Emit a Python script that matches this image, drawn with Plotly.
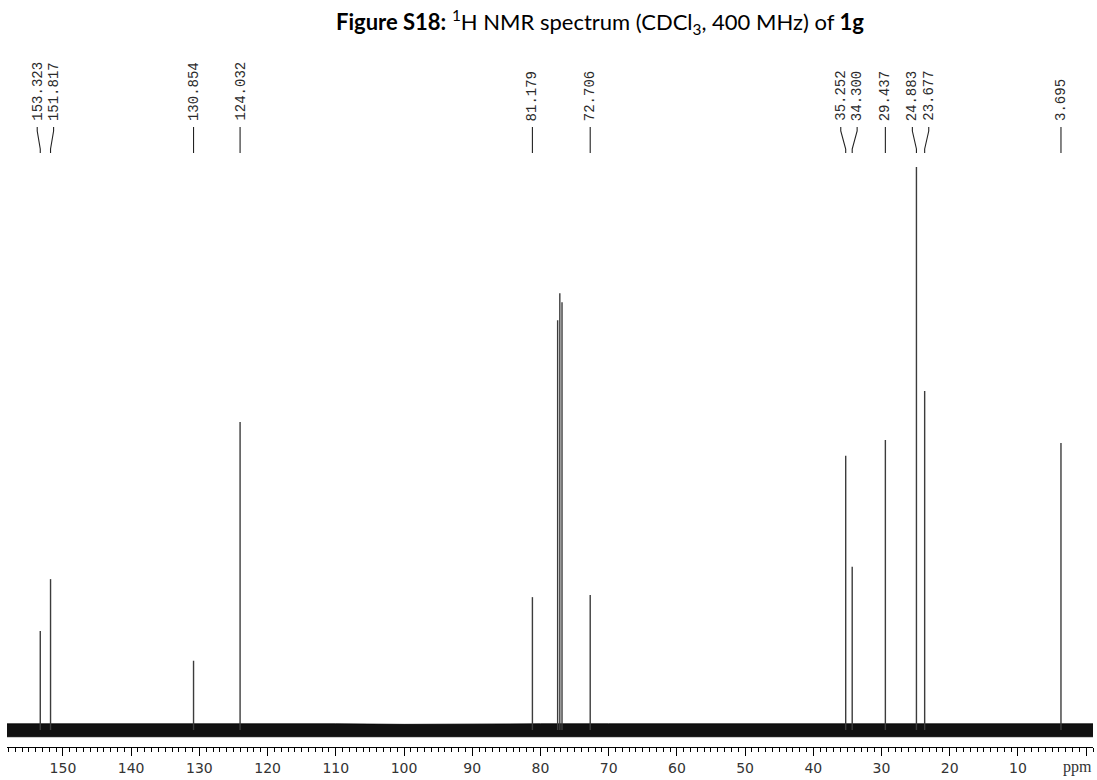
import plotly.graph_objects as go

# ---- data ----
peak_ppm = [153.323, 151.817, 130.854, 124.032, 81.179, 77.48, 77.16, 76.84,
            72.706, 35.252, 34.300, 29.437, 24.883, 23.677, 3.695]
peak_int = [17.6, 26.8, 12.3, 54.7, 23.6, 72.8, 77.6, 76.0,
            24.0, 48.7, 29.0, 51.5, 100.0, 60.2, 51.0]

label_ppm = [153.323, 151.817, 130.854, 124.032, 81.179, 72.706,
             35.252, 34.300, 29.437, 24.883, 23.677, 3.695]
label_text = ["153.323", "151.817", "130.854", "124.032", "81.179", "72.706",
              "35.252", "34.300", "29.437", "24.883", "23.677", "3.695"]

noise_ppm = [158.2, 150, 140, 130, 120, 110, 100, 90, 80, 70, 60, 50, 40, 30, 20, 10, 0, -1.0]
noise_hi = [1.1, 1.1, 1.2, 1.1, 1.1, 1.1, 1.0, 1.1, 1.1, 1.1, 1.1, 1.1, 1.2, 1.1, 1.1, 1.1, 1.1, 1.1]
noise_lo = [-1.2, -1.2, -1.1, -1.2, -1.1, -1.1, -1.1, -1.1, -1.2, -1.2, -1.1, -1.2, -1.1, -1.2, -1.1, -1.2, -1.1, -1.2]

tick_vals = [150, 140, 130, 120, 110, 100, 90, 80, 70, 60, 50, 40, 30, 20, 10, 0]
tick_text = ["150", "140", "130", "120", "110", "100", "90", "80", "70", "60",
             "50", "40", "30", "20", "10", ""]
unit_text = "ppm"

# ---- layout constants ----
X_RANGE = [158.2, -1.0]
Y_RANGE = [-3.02, 119.9]
PX_TOP, PX_BOT = 55, 747          # plot area in page pixels (used by y2)
PX_LEFT, PX_RIGHT = 7, 1093
LABEL_BOTTOM = 122
CONN_TOP, CONN_BOT = 127, 153
MIN_SEP = 2.4                      # ppm between neighbouring labels

# spread labels that are too close
pos = list(label_ppm)
for _ in range(50):
    for i in range(len(pos) - 1):
        d = pos[i] - pos[i + 1]
        if d < MIN_SEP:
            c = (pos[i] + pos[i + 1]) / 2
            pos[i] = c + MIN_SEP / 2
            pos[i + 1] = c - MIN_SEP / 2

fig = go.Figure()

# baseline noise band
fig.add_trace(go.Scatter(x=noise_ppm, y=noise_lo, mode="lines",
                         line=dict(color="black", width=0.8), hoverinfo="skip"))
fig.add_trace(go.Scatter(x=noise_ppm, y=noise_hi, mode="lines", fill="tonexty",
                         fillcolor="#111", line=dict(color="black", width=0.8),
                         hoverinfo="skip"))

# peaks
px, py = [], []
for p, h in zip(peak_ppm, peak_int):
    px += [p, p, None]
    py += [0, h, None]
fig.add_trace(go.Scatter(x=px, y=py, mode="lines",
                         line=dict(color="#3c3c3c", width=1.4), hoverinfo="skip"))

# connectors
cx, cy = [], []
for lp, p in zip(pos, label_ppm):
    cx += [lp, lp, p, p, None]
    cy += [CONN_TOP, CONN_TOP + 4, CONN_BOT - 4, CONN_BOT, None]
fig.add_trace(go.Scatter(x=cx, y=cy, mode="lines", yaxis="y2",
                         line=dict(color="#222", width=1.1), hoverinfo="skip"))

for lp, t in zip(pos, label_text):
    fig.add_annotation(x=lp, y=LABEL_BOTTOM, xref="x", yref="y2", text=t,
                       textangle=-90, showarrow=False, xanchor="center",
                       yanchor="bottom", borderpad=0,
                       font=dict(family="Liberation Mono", size=14, color="#2a2a2a"))

# unit label at the right end of the axis (below it)
fig.add_annotation(x=1.0, y=(PX_BOT - 767) / (PX_BOT - PX_TOP),
                   xref="paper", yref="paper", text=unit_text,
                   showarrow=False, xanchor="right", yanchor="middle", borderpad=0,
                   font=dict(family="Liberation Serif", size=16, color="#333"))

# title
fig.add_annotation(
    x=(600 - PX_LEFT) / (PX_RIGHT - PX_LEFT), y=(PX_BOT - 22) / (PX_BOT - PX_TOP),
    xref="paper", yref="paper",
    text="<b>Figure S18:</b> <sup>1</sup>H NMR spectrum (CDCl<sub>3</sub>, 400 MHz) of <b>1g</b>",
    showarrow=False, xanchor="center", yanchor="middle",
    font=dict(family="Lato", size=22, color="black"))

fig.update_layout(
    width=1097, height=780,
    margin=dict(l=PX_LEFT, r=1097 - PX_RIGHT, t=PX_TOP, b=780 - PX_BOT),
    paper_bgcolor="white", plot_bgcolor="white",
    showlegend=False,
    xaxis=dict(range=X_RANGE, showgrid=False, zeroline=False,
               showline=True, linecolor="black", linewidth=1.2,
               ticks="outside", ticklen=8, tickwidth=1.2, tickcolor="black",
               tickvals=tick_vals, ticktext=tick_text,
               tickfont=dict(family="DejaVu Sans", size=14, color="#333"),
               minor=dict(dtick=1, ticks="outside", ticklen=4, tickcolor="black", tickwidth=1)),
    yaxis=dict(range=Y_RANGE, visible=False, showgrid=False, zeroline=False),
    yaxis2=dict(range=[PX_BOT, PX_TOP], overlaying="y", visible=False,
                showgrid=False, zeroline=False),
)

fig.write_html("out.html")
